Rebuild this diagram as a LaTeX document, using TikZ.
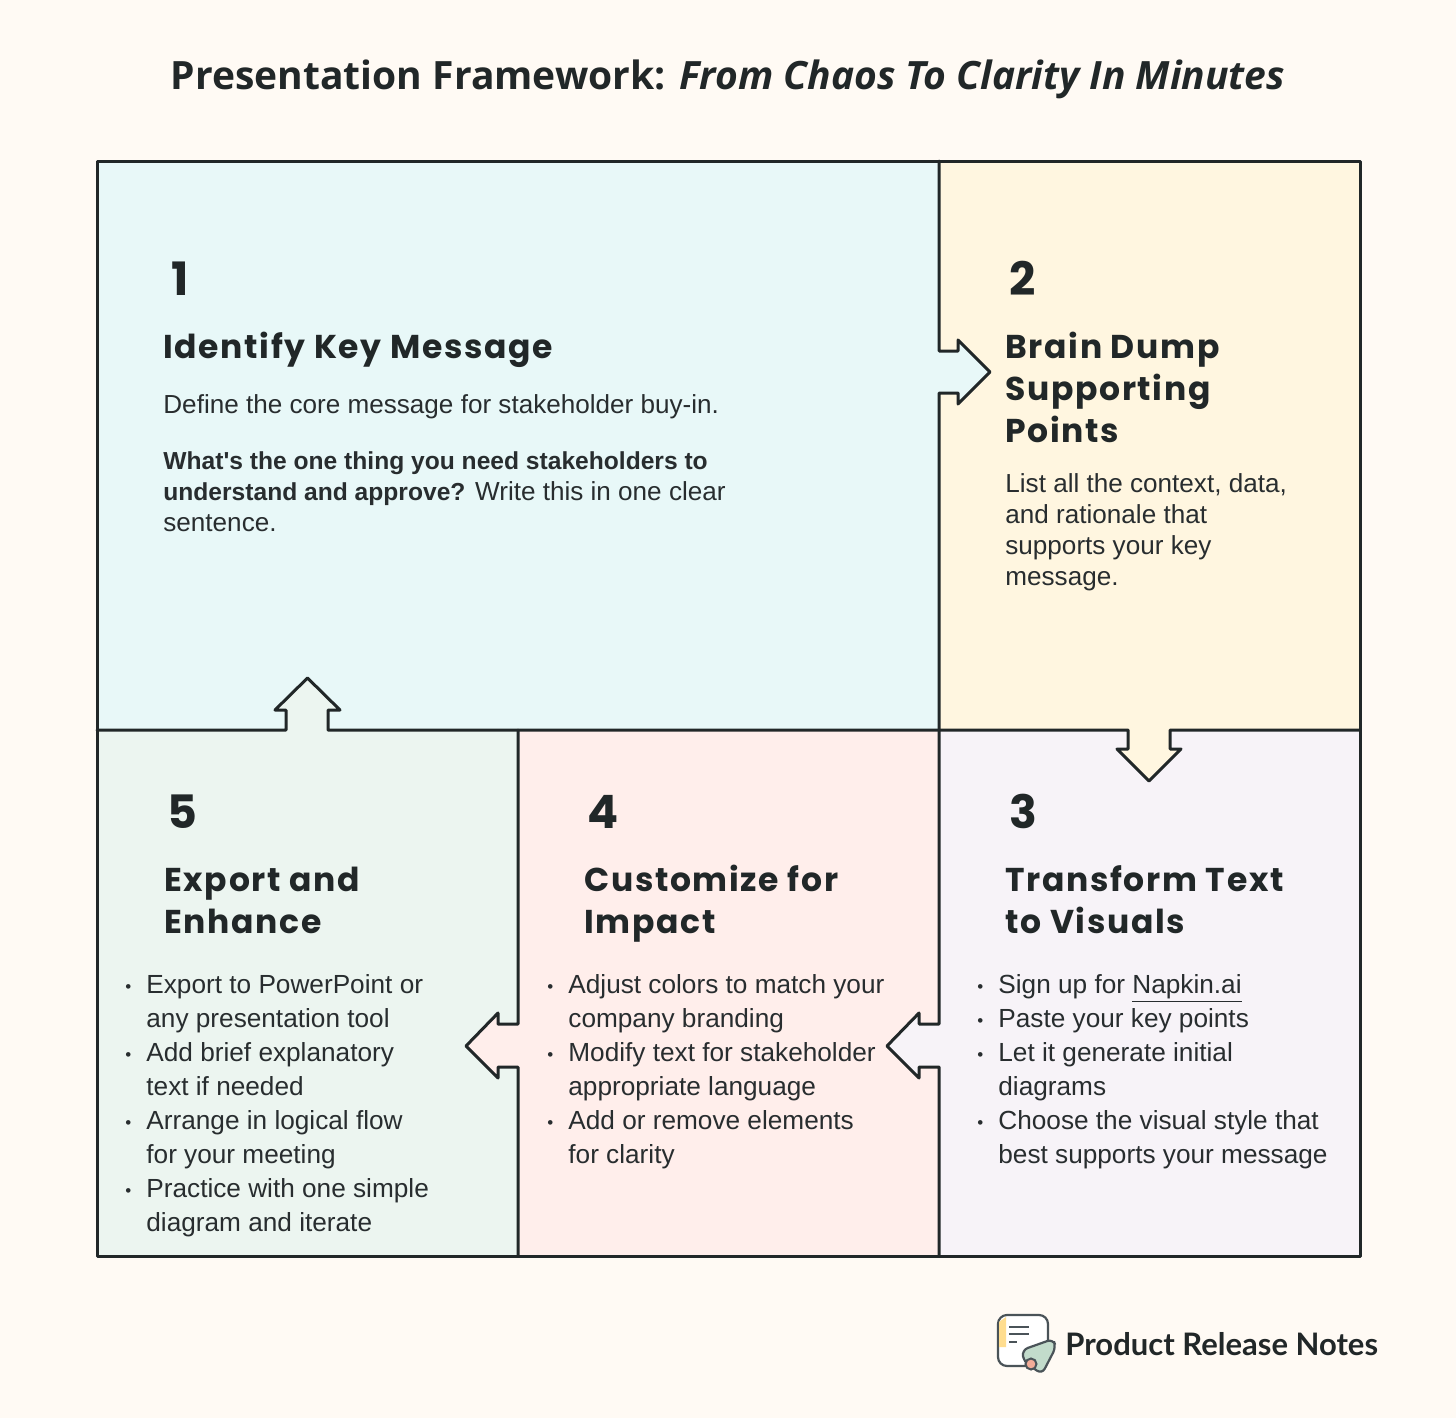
\documentclass[tikz,border=0pt]{standalone}
\usepackage{fontspec}
\usepackage{xcolor}
\setmainfont{Liberation Sans}
\newfontfamily\titlefont{Open Sans}
\newfontfamily\handfont{Poppins}
\newfontfamily\headfont[LetterSpace=5]{Poppins}
\newfontfamily\brandfont{Lato}
\definecolor{paper}{HTML}{FFFAF4}
\definecolor{ink}{HTML}{212728}
\definecolor{bodyink}{HTML}{282D2F}
\definecolor{panelone}{HTML}{E8F8F8}
\definecolor{paneltwo}{HTML}{FFF6E0}
\definecolor{panelthree}{HTML}{F7F3F8}
\definecolor{panelfour}{HTML}{FFEEEB}
\definecolor{panelfive}{HTML}{ECF5F0}
\definecolor{logoline}{HTML}{4A5358}
\definecolor{logoyellow}{HTML}{FFDD8F}
\definecolor{logogreen}{HTML}{C2DBCB}
\definecolor{logopink}{HTML}{F2AC98}
\newcommand{\bitem}{\strut\llap{\raisebox{0.6pt}{\fontsize{8.5}{8.5}\selectfont\textbullet}\hspace{7.5pt}}}
\newcommand{\boldpart}[1]{{\fontsize{12.3}{15.5}\selectfont\textbf{#1}}}
\tikzset{
  outline/.style={draw=ink, line width=1.5pt, line join=round, line cap=round},
  numlabel/.style={anchor=base west, inner sep=0pt, text=ink, font=\handfont\bfseries\fontsize{23}{28}\selectfont},
  headlabel/.style={anchor=north west, inner sep=0pt, align=left, text=ink, font=\headfont\bfseries\fontsize{16.5}{21}\selectfont},
  bodylabel/.style={anchor=north west, inner sep=0pt, align=left, text=bodyink, font=\fontsize{13.05}{15.5}\selectfont},
  listlabel/.style={anchor=north west, inner sep=0pt, align=left, text=bodyink, font=\fontsize{13.1}{17}\selectfont},
}
\begin{document}
\begin{tikzpicture}[x=0.5pt,y=-0.5pt]
  \fill[paper] (0,0) rectangle (1456,1418);
  % panels with their arrows
  \fill[panelone] (97,161) -- (939,161) -- (939,730) -- (97,730) -- cycle;
  \fill[paneltwo] (939,161) -- (1360,161) -- (1360,730) -- (939,730) -- cycle;
  \fill[panelthree] (939,730) -- (1360,730) -- (1360,1256) -- (939,1256) -- cycle;
  \fill[panelfour] (518,730) -- (939,730) -- (939,1256) -- (518,1256) -- cycle;
  \fill[panelfive] (97,730) -- (518,730) -- (518,1256) -- (97,1256) -- cycle;
  \fill[panelone] (939,351) -- (958,351) -- (958,340) -- (990,372) -- (958,404) -- (958,393) -- (939,393) -- cycle;
  \fill[paneltwo] (1128,730) -- (1128,749) -- (1117,749) -- (1149,781) -- (1181,749) -- (1170,749) -- (1170,730) -- cycle;
  \fill[panelthree] (939,1024) -- (919,1024) -- (919,1013) -- (887,1046) -- (919,1078) -- (919,1067) -- (939,1067) -- cycle;
  \fill[panelfour] (518,1024) -- (498,1024) -- (498,1013) -- (466,1046) -- (498,1078) -- (498,1067) -- (518,1067) -- cycle;
  \fill[panelfive] (286,730) -- (286,710) -- (275,710) -- (307.5,678) -- (340,710) -- (328,710) -- (328,730) -- cycle;
  % lines
  \draw[outline] (97,161) rectangle (1360,1256);
  \draw[outline] (939,161) -- (939,351) -- (958,351) -- (958,340) -- (990,372) -- (958,404) -- (958,393) -- (939,393) -- (939,730);
  \draw[outline] (97,730) -- (286,730) -- (286,710) -- (275,710) -- (307.5,678) -- (340,710) -- (328,710) -- (328,730) -- (1128,730) -- (1128,749) -- (1117,749) -- (1149,781) -- (1181,749) -- (1170,749) -- (1170,730) -- (1360,730);
  \draw[outline] (939,730) -- (939,1024) -- (919,1024) -- (919,1013) -- (887,1046) -- (919,1078) -- (919,1067) -- (939,1067) -- (939,1256);
  \draw[outline] (518,730) -- (518,1024) -- (498,1024) -- (498,1013) -- (466,1046) -- (498,1078) -- (498,1067) -- (518,1067) -- (518,1256);
  % title
  \node[inner sep=0pt, text=ink, font=\titlefont\bfseries\fontsize{19.5}{24}\selectfont] (title) at (728,79) {Presentation Framework: \textit{From Chaos To Clarity In Minutes}};
  % step 1
  \node[numlabel] (numone) at (171,295) {1};
  \node[headlabel] (headone) at (163,329) {\strut Identify Key Message};
  \node[bodylabel] (textone) at (163,391) {\strut Define the core message for stakeholder buy-in.};
  \node[bodylabel] (askone) at (163,447) {\strut\boldpart{What\textquotesingle s the one thing you need stakeholders to}\\\boldpart{understand and approve?} Write this in one clear\\sentence.};
  % step 2
  \node[numlabel] (numtwo) at (1009,295) {2};
  \node[headlabel] (headtwo) at (1005,329) {\strut Brain Dump\\Supporting\\Points};
  \node[bodylabel] (texttwo) at (1005,470) {\strut List all the context, data,\\and rationale that\\supports your key\\message.};
  % step 3
  \node[numlabel] (numthree) at (1009,828) {3};
  \node[headlabel] (headthree) at (1005,862) {\strut Transform Text\\to Visuals};
  \node[listlabel] (listthree) at (998,969) {\bitem Sign up for \underline{Napkin.ai}\\\bitem Paste your key points\\\bitem Let it generate initial\\diagrams\\\bitem Choose the visual style that\\best supports your message};
  % step 4
  \node[numlabel] (numfour) at (587,828) {4};
  \node[headlabel] (headfour) at (584,862) {\strut Customize for\\Impact};
  \node[listlabel] (listfour) at (568,969) {\bitem Adjust colors to match your\\company branding\\\bitem Modify text for stakeholder\\appropriate language\\\bitem Add or remove elements\\for clarity};
  % step 5
  \node[numlabel] (numfive) at (167,828) {5};
  \node[headlabel] (headfive) at (164,862) {\strut Export and\\Enhance};
  \node[listlabel] (listfive) at (146,969) {\bitem Export to PowerPoint or\\any presentation tool\\\bitem Add brief explanatory\\text if needed\\\bitem Arrange in logical flow\\for your meeting\\\bitem Practice with one simple\\diagram and iterate};
  % logo
  \draw[fill=white, draw=logoline, line width=1.1pt, rounded corners=4.5pt] (998,1315) rectangle (1048,1366);
  \fill[logoyellow] (999,1322) -- (1006,1317) -- (1006,1347) -- (999,1347) -- cycle;
  \draw[logoline, line width=0.8pt] (1009,1327) -- (1029,1327) (1009,1334) -- (1029,1334) (1009,1342) -- (1017,1342);
  \draw[fill=logogreen, draw=logoline, line width=1.1pt, rounded corners=3pt] (1022,1350) -- (1053,1339) -- (1056,1347) -- (1042,1374) -- (1024,1362) -- cycle;
  \draw[fill=logopink, draw=logoline, line width=1pt] (1031,1364) circle (5.5);
  \node[anchor=base west, inner sep=0pt, text=ink, font=\brandfont\bfseries\fontsize{15.5}{20}\selectfont] (brand) at (1065,1355) {Product Release Notes};
\end{tikzpicture}
\end{document}
